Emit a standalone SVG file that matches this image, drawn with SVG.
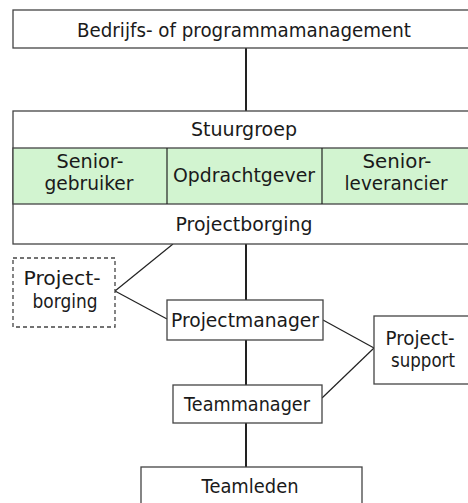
<svg xmlns="http://www.w3.org/2000/svg" width="468" height="503" viewBox="0 0 468 503">
<style>
.box{fill:#ffffff;stroke:#444;stroke-width:1.3}
.green{fill:#d2f4d0;stroke:#444;stroke-width:1.3}
.dash{fill:#ffffff;stroke:#444;stroke-width:1.3;stroke-dasharray:4,3}
.t{font-family:"DejaVu Sans",sans-serif;font-size:19px;fill:#1a1a1a;text-anchor:middle}
.c{stroke:#222;fill:none}
.thick{stroke-width:2}
.thin{stroke-width:1.2}
</style>
<rect width="468" height="503" fill="#ffffff"/>
<g id="connectors">
<line class="c thick" x1="246" y1="48" x2="246" y2="111"/>
<line class="c thick" x1="246" y1="244" x2="246" y2="300"/>
<line class="c thick" x1="246" y1="340" x2="246" y2="385"/>
<line class="c thick" x1="246" y1="423" x2="246" y2="467"/>
<line class="c thin" x1="115" y1="291" x2="173" y2="244"/>
<line class="c thin" x1="115" y1="291" x2="167" y2="319"/>
<line class="c thin" x1="323" y1="320" x2="374" y2="348"/>
<line class="c thin" x1="322" y1="398" x2="374" y2="348"/>
</g>
<g id="management">
<rect class="box" x="13" y="10" width="460" height="38"/>
<text class="t" x="244" y="37" textLength="334" lengthAdjust="spacingAndGlyphs">Bedrijfs- of programmamanagement</text>
</g>
<g id="stuurgroep">
<rect class="box" x="13" y="111" width="460" height="133"/>
<rect class="green" x="13" y="148" width="460" height="56"/>
<line class="c thin" x1="167" y1="148" x2="167" y2="204"/>
<line class="c thin" x1="322" y1="148" x2="322" y2="204"/>
<text class="t" x="244" y="136" textLength="106" lengthAdjust="spacingAndGlyphs">Stuurgroep</text>
<text class="t" x="90" y="168" textLength="67" lengthAdjust="spacingAndGlyphs">Senior-</text>
<text class="t" x="89" y="190" textLength="89" lengthAdjust="spacingAndGlyphs">gebruiker</text>
<text class="t" x="244" y="182" textLength="142" lengthAdjust="spacingAndGlyphs">Opdrachtgever</text>
<text class="t" x="397" y="168" textLength="69" lengthAdjust="spacingAndGlyphs">Senior-</text>
<text class="t" x="396" y="190" textLength="103" lengthAdjust="spacingAndGlyphs">leverancier</text>
<text class="t" x="244" y="231" textLength="137" lengthAdjust="spacingAndGlyphs">Projectborging</text>
</g>
<g id="projectborging-extern">
<rect class="dash" x="13" y="258" width="102" height="69"/>
<text class="t" x="62" y="285" textLength="77" lengthAdjust="spacingAndGlyphs">Project-</text>
<text class="t" x="65" y="308" textLength="65" lengthAdjust="spacingAndGlyphs">borging</text>
</g>
<g id="projectmanager">
<rect class="box" x="167" y="300" width="156" height="40"/>
<text class="t" x="245" y="327" textLength="148" lengthAdjust="spacingAndGlyphs">Projectmanager</text>
</g>
<g id="projectsupport">
<rect class="box" x="374" y="316" width="100" height="68"/>
<text class="t" x="420" y="345" textLength="69" lengthAdjust="spacingAndGlyphs">Project-</text>
<text class="t" x="423" y="367" textLength="64" lengthAdjust="spacingAndGlyphs">support</text>
</g>
<g id="teammanager">
<rect class="box" x="173" y="385" width="149" height="38"/>
<text class="t" x="247" y="411" textLength="126" lengthAdjust="spacingAndGlyphs">Teammanager</text>
</g>
<g id="teamleden">
<rect class="box" x="141" y="467" width="221" height="45"/>
<text class="t" x="250" y="493" textLength="97" lengthAdjust="spacingAndGlyphs">Teamleden</text>
</g>
</svg>
